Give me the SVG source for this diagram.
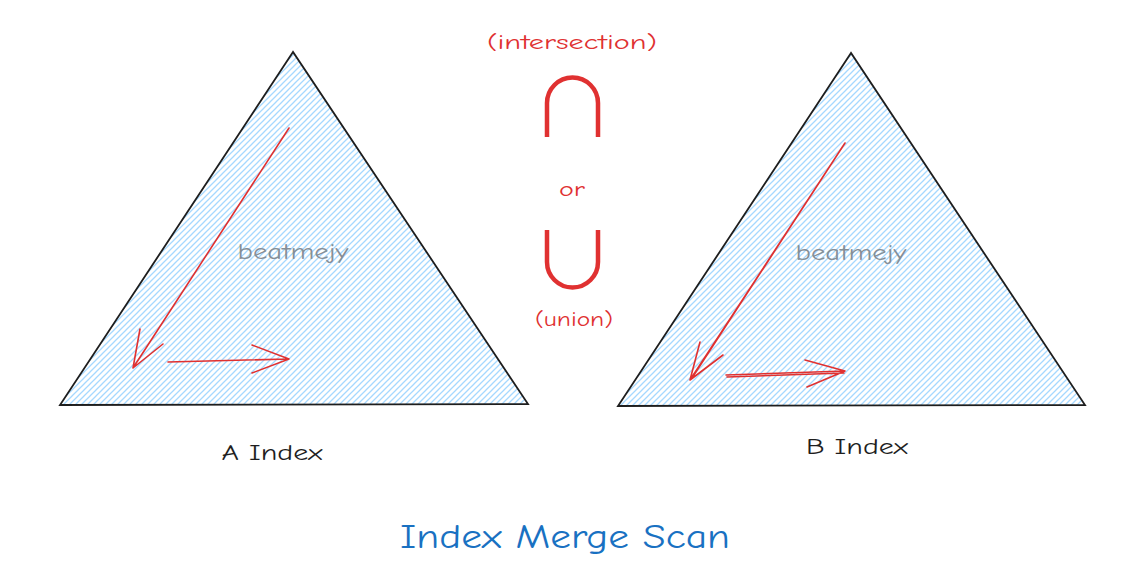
<svg xmlns="http://www.w3.org/2000/svg" width="1128" height="576" viewBox="0 0 1128 576">
<defs>
<pattern id="hatch" width="6" height="6" patternUnits="userSpaceOnUse">
<path d="M0,6 L6,0 M-1,1 L1,-1 M5,7 L7,5" stroke="#a5d8ff" stroke-width="1.3" fill="none"/>
</pattern>
</defs>
<style>
.tri{fill:url(#hatch);stroke:#1e1e1e;stroke-width:1.8;stroke-linejoin:miter}
.arr{fill:none;stroke:#e03131;stroke-width:1.6;stroke-linecap:round;stroke-linejoin:round}
.sym{fill:none;stroke:#e03131;stroke-width:4.5;stroke-linecap:butt}
.hand{font-family:"Comic Neue","Liberation Sans",sans-serif}
.red{fill:#e03131;font-size:20px}
.wm{fill:#868e96;font-size:22px}
.lbl{fill:#1e1e1e;font-size:22px}
.title{fill:#1971c2;font-size:34px}
</style>
<rect width="1128" height="576" fill="#ffffff"/>
<g id="a-index">
<polygon class="tri" points="293,52 60,405 528,404"/>
<text class="hand wm" x="293" y="259" text-anchor="middle" textLength="111" lengthAdjust="spacingAndGlyphs">beatmejy</text>
<text class="hand lbl" x="272" y="460" text-anchor="middle" textLength="101" lengthAdjust="spacingAndGlyphs">A Index</text>
</g>
<g id="b-index">
<polygon class="tri" points="851,53 618,406 1085,405"/>
<text class="hand wm" x="851" y="260" text-anchor="middle" textLength="111" lengthAdjust="spacingAndGlyphs">beatmejy</text>
<text class="hand lbl" x="857" y="454" text-anchor="middle" textLength="102" lengthAdjust="spacingAndGlyphs">B Index</text>
</g>
<g id="operators">
<text class="hand red" x="572" y="49" text-anchor="middle" textLength="170" lengthAdjust="spacingAndGlyphs">(intersection)</text>
<path class="sym" d="M547,137 V103 A25.5,25.5 0 0 1 598,103 V137"/>
<text class="hand red" x="572" y="196" text-anchor="middle" textLength="26" lengthAdjust="spacingAndGlyphs">or</text>
<path class="sym" d="M547,230 V262 A25.5,25.5 0 0 0 598,262 V230"/>
<text class="hand red" x="574" y="326" text-anchor="middle" textLength="78" lengthAdjust="spacingAndGlyphs">(union)</text>
</g>
<g id="connectors">
<path class="arr" d="M289,128 L133,368 M140,329 L133,368 L163,344"/>
<path class="arr" d="M168,362 L289,359 M252,345 L289,359 L252,373"/>
<path class="arr" d="M845,143 L690,380 M843,146 L692,378 M700,342 L690,380 L723,355"/>
<path class="arr" d="M726,375 L845,371 M727,377 L844,373 M805,360 L845,371 L807,387"/>
</g>
<g id="title">
<text class="hand title" x="565" y="548" text-anchor="middle" textLength="330" lengthAdjust="spacingAndGlyphs">Index Merge Scan</text>
</g>
</svg>
